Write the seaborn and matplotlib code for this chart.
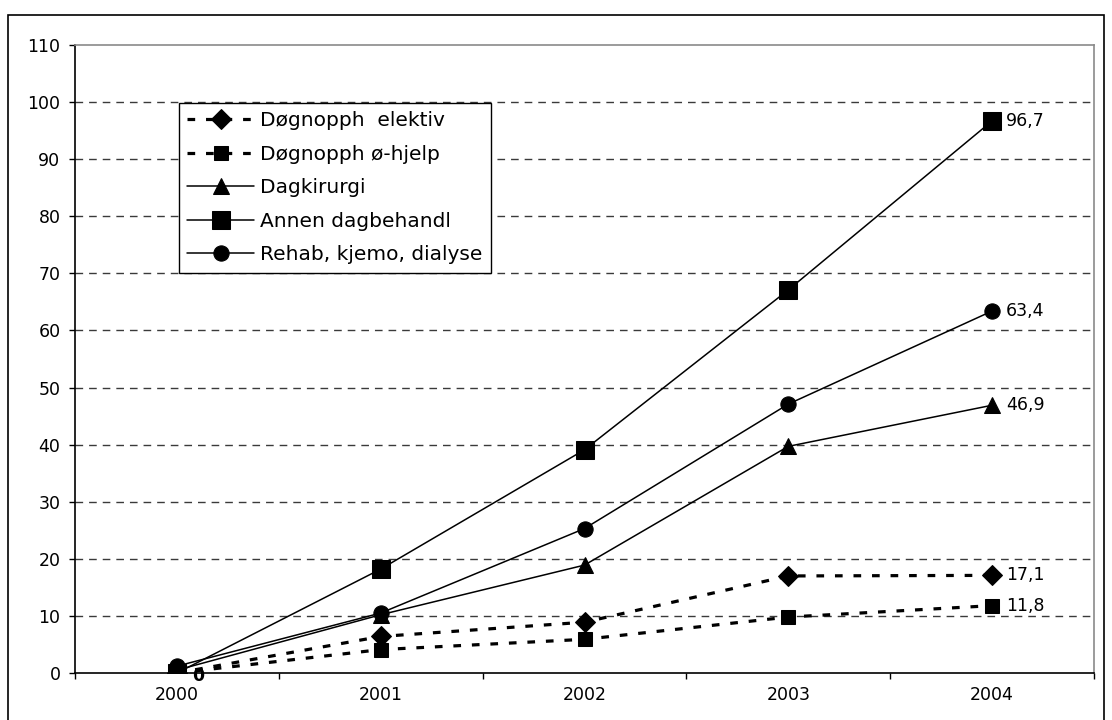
import matplotlib
matplotlib.use("Agg")
import matplotlib.pyplot as plt
from matplotlib.patches import Rectangle
from matplotlib.ticker import FixedLocator, NullFormatter, FixedFormatter
import seaborn as sns
import pandas as pd

# Data
years = ["2000", "2001", "2002", "2003", "2004"]
series_names = [
    "Døgnopph  elektiv",
    "Døgnopph ø-hjelp",
    "Dagkirurgi",
    "Annen dagbehandl",
    "Rehab, kjemo, dialyse",
]
dogn_elektiv = [0.0, 6.4, 8.9, 17.0, 17.1]
dogn_ohjelp = [0.0, 4.1, 5.9, 9.8, 11.8]
dagkirurgi = [0.5, 10.2, 18.9, 39.7, 46.9]
annen_dagbehandl = [0.0, 18.2, 39.1, 67.1, 96.7]
rehab_kjemo_dialyse = [1.2, 10.5, 25.3, 47.1, 63.4]
end_labels = ["17,1", "11,8", "46,9", "96,7", "63,4"]
start_label = "0"
y_ticks = list(range(0, 111, 10))

values = [dogn_elektiv, dogn_ohjelp, dagkirurgi, annen_dagbehandl, rehab_kjemo_dialyse]

rows = []
for name, vals in zip(series_names, values):
    for i, (yr, v) in enumerate(zip(years, vals)):
        rows.append({"serie": name, "pos": i, "year": yr, "value": v})
df = pd.DataFrame(rows)

sns.set_theme(style="white")
plt.rcParams["font.family"] = ["DejaVu Sans"]
plt.rcParams["text.color"] = "black"
plt.rcParams["xtick.color"] = "black"
plt.rcParams["ytick.color"] = "black"
plt.rcParams["xtick.labelcolor"] = "black"
plt.rcParams["ytick.labelcolor"] = "black"

W, H = 1112, 720
fig = plt.figure(figsize=(W / 100, H / 100), dpi=100)
ax = fig.add_axes([75 / W, 1 - 673 / H, (1094 - 75) / W, (673 - 45) / H])

# Horizontal dashed grid
for yv in y_ticks[1:-1]:
    ax.axhline(yv, color="#3a3a3a", lw=1.0, linestyle=(0, (5.5, 4.3)), zorder=0)

dotted = (0, (2.4, 3.4))
styles = {
    "Døgnopph  elektiv": dict(marker="D", markersize=10, linewidth=2.3, linestyle=dotted),
    "Døgnopph ø-hjelp": dict(marker="s", markersize=10.5, linewidth=2.3, linestyle=dotted),
    "Dagkirurgi": dict(marker="^", markersize=11.5, linewidth=1.1, linestyle="-"),
    "Annen dagbehandl": dict(marker="s", markersize=13, linewidth=1.1, linestyle="-"),
    "Rehab, kjemo, dialyse": dict(marker="o", markersize=11, linewidth=1.1, linestyle="-"),
}

for name in series_names:
    sub = df[df["serie"] == name]
    st = styles[name]
    sns.lineplot(
        data=sub, x="pos", y="value", ax=ax, color="black",
        marker=st["marker"], markersize=st["markersize"],
        markeredgecolor="black", markerfacecolor="black",
        linewidth=st["linewidth"], linestyle=st["linestyle"],
        label=name, zorder=3, legend=False,
    )

# Value labels at the last year and the start value
for name, vals, lab in zip(series_names, values, end_labels):
    ax.annotate(lab, xy=(4, vals[-1]), xytext=(14, 0), textcoords="offset pixels",
                ha="left", va="center", fontsize=12.5, color="black")
ax.annotate(start_label, xy=(0, 0), xytext=(15, -3), textcoords="offset pixels",
            ha="left", va="center", fontsize=12.5, color="black", fontweight="bold")

ax.set_xlim(-0.5, 4.5)
ax.set_ylim(0, 110)
ax.set_xlabel("")
ax.set_ylabel("")

ax.xaxis.set_major_locator(FixedLocator([-0.5, 0.5, 1.5, 2.5, 3.5, 4.5]))
ax.xaxis.set_major_formatter(NullFormatter())
ax.xaxis.set_minor_locator(FixedLocator(list(range(len(years)))))
ax.xaxis.set_minor_formatter(FixedFormatter(years))
ax.tick_params(axis="x", which="major", direction="out", length=4, width=1, color="black", bottom=True)
ax.tick_params(axis="x", which="minor", length=0, pad=9, labelsize=12.5, bottom=True,
               labelcolor="black")
ax.set_yticks(y_ticks)
ax.tick_params(axis="y", direction="out", length=4.5, width=1, color="black", pad=6,
               labelsize=12.5, left=True, labelcolor="black")

for side in ["left", "bottom"]:
    ax.spines[side].set_color("black")
    ax.spines[side].set_linewidth(1.2)
for side in ["top", "right"]:
    ax.spines[side].set_color("#8a8a8a")
    ax.spines[side].set_linewidth(1.2)

leg = ax.legend(loc="upper left", bbox_to_anchor=(0.102, 0.908), borderaxespad=0,
                fontsize=14.5, frameon=True, fancybox=False, edgecolor="black",
                framealpha=1, handlelength=3.3, labelspacing=0.72, handletextpad=0.3,
                borderpad=0.42)
leg.get_frame().set_linewidth(1.0)
for t in leg.get_texts():
    t.set_color("black")

# Outer frame around the whole chart
fig.patches.append(Rectangle((8 / W, -0.01), (1104 - 8) / W, 1 - 15 / H + 0.01,
                             transform=fig.transFigure, fill=False,
                             edgecolor="black", linewidth=1.2))

fig.savefig("out.png", dpi=100)
